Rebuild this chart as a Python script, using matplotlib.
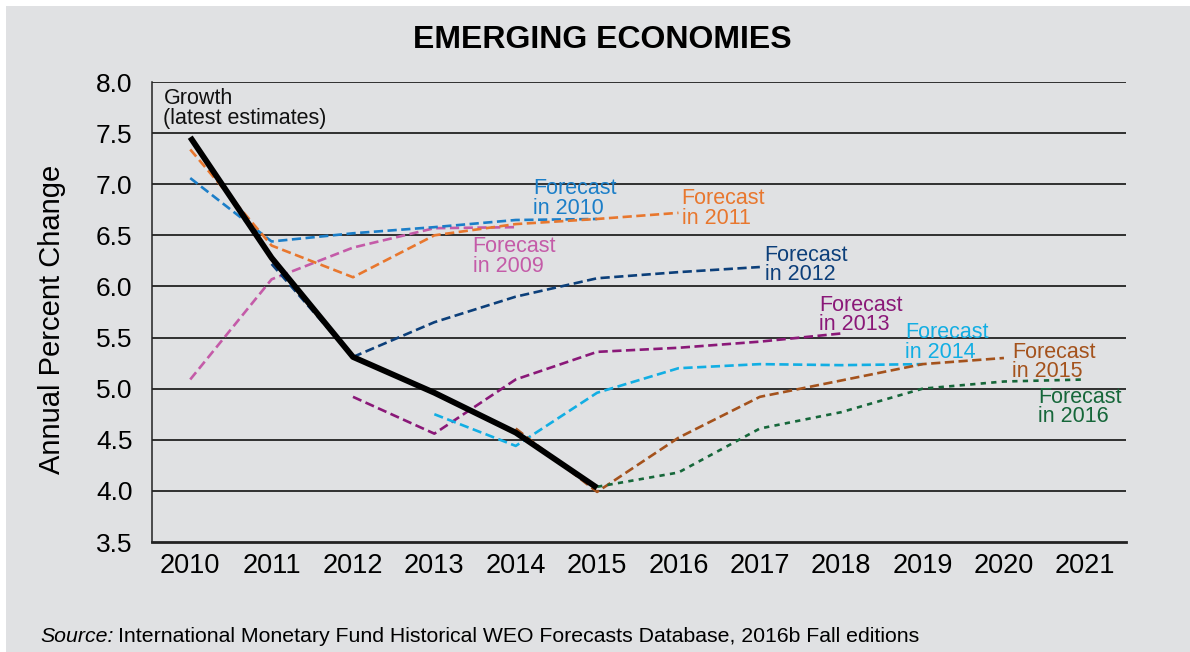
import matplotlib.pyplot as plt
from matplotlib.patches import Rectangle
import numpy as np

plt.rcParams['font.family'] = ['Liberation Sans', 'DejaVu Sans']

years = list(range(2010, 2022))

# growth, latest estimates
growth_x = [2010, 2011, 2012, 2013, 2014, 2015]
growth_y = [7.46, 6.28, 5.31, 4.96, 4.57, 4.03]

# forecasts by vintage: (years, values)
f2009_x = [2010, 2011, 2012, 2013, 2014]
f2009_y = [5.09, 6.07, 6.38, 6.57, 6.58]
f2010_x = [2010, 2011, 2012, 2013, 2014, 2015]
f2010_y = [7.06, 6.44, 6.52, 6.58, 6.65, 6.66]
f2011_x = [2010, 2011, 2012, 2013, 2014, 2015, 2016]
f2011_y = [7.34, 6.40, 6.09, 6.50, 6.61, 6.66, 6.72]
f2012_x = [2011, 2012, 2013, 2014, 2015, 2016, 2017]
f2012_y = [6.22, 5.31, 5.65, 5.90, 6.08, 6.14, 6.19]
f2013_x = [2012, 2013, 2014, 2015, 2016, 2017, 2018]
f2013_y = [4.92, 4.56, 5.09, 5.36, 5.40, 5.46, 5.54]
f2014_x = [2013, 2014, 2015, 2016, 2017, 2018, 2019]
f2014_y = [4.75, 4.44, 4.96, 5.20, 5.24, 5.23, 5.24]
f2015_x = [2014, 2015, 2016, 2017, 2018, 2019, 2020]
f2015_y = [4.61, 3.99, 4.52, 4.92, 5.08, 5.24, 5.30]
f2016_x = [2015, 2016, 2017, 2018, 2019, 2020, 2021]
f2016_y = [4.04, 4.18, 4.61, 4.77, 5.00, 5.07, 5.09]

bg = '#e0e1e3'
fig = plt.figure(figsize=(11.9, 6.52), dpi=100)
fig.patch.set_facecolor('white')
fig.patches.append(Rectangle((6/1190, 0), 1, 1 - 6/652, transform=fig.transFigure,
                             facecolor=bg, edgecolor='none', zorder=-10))

ax = fig.add_axes([152/1190, 1 - 542/652, (1126 - 152)/1190, (542 - 82)/652])
ax.set_facecolor(bg)
ax.set_xlim(2009.53, 2021.5)
ax.set_ylim(3.5, 8.0)
ax.set_yticks(np.arange(3.5, 8.01, 0.5))
ax.set_yticklabels([f'{v:.1f}' for v in np.arange(3.5, 8.01, 0.5)], fontsize=19)
ax.set_xticks(years)
ax.set_xticklabels([str(y) for y in years], fontsize=19.5)
ax.tick_params(length=0, pad=8)
ax.tick_params(axis='y', pad=14)
for v in np.arange(4.0, 8.01, 0.5):
    ax.axhline(v, color='#222222', lw=1.3, zorder=1)
ax.spines['top'].set_visible(False)
ax.spines['right'].set_visible(False)
ax.spines['left'].set_color('#222222')
ax.spines['left'].set_linewidth(1.1)
ax.spines['bottom'].set_color('#222222')
ax.spines['bottom'].set_linewidth(2)

dash = (0, (3.5, 1.7))
series = [
    (f2009_x, f2009_y, '#c45ba8', dash),
    (f2010_x, f2010_y, '#1b7ec8', dash),
    (f2011_x, f2011_y, '#e8772e', dash),
    (f2012_x, f2012_y, '#0c3f7a', dash),
    (f2013_x, f2013_y, '#8a1878', dash),
    (f2014_x, f2014_y, '#12aee3', dash),
    (f2015_x, f2015_y, '#a4521c', dash),
    (f2016_x, f2016_y, '#16673a', (0, (2, 2))),
]
for x, y, c, ls in series:
    ax.plot(x, y, color=c, lw=1.9, linestyle=ls, zorder=3)
ax.plot(growth_x, growth_y, color='black', lw=4.2, zorder=4, solid_capstyle='butt')

ax.set_ylabel('Annual Percent Change', fontsize=21)
ax.yaxis.set_label_coords(-0.088, 0.483)

lab = dict(fontsize=15.5, linespacing=0.92, va='top', ha='left')
ax.text(2009.67, 7.94, 'Growth\n(latest estimates)', color='#111111', **lab)
ax.text(2014.21, 7.06, 'Forecast\nin 2010', color='#1b7ec8', **lab)
ax.text(2016.04, 6.96, 'Forecast\nin 2011', color='#e8772e', **lab)
ax.text(2013.47, 6.49, 'Forecast\nin 2009', color='#c45ba8', **lab)
ax.text(2017.06, 6.41, 'Forecast\nin 2012', color='#0c3f7a', **lab)
ax.text(2017.73, 5.92, 'Forecast\nin 2013', color='#8a1878', **lab)
ax.text(2018.79, 5.65, 'Forecast\nin 2014', color='#12aee3', **lab)
ax.text(2020.10, 5.46, 'Forecast\nin 2015', color='#a4521c', **lab)
ax.text(2020.42, 5.02, 'Forecast\nin 2016', color='#16673a', **lab)

fig.text(602/1190, 1 - 40/652, 'EMERGING ECONOMIES', fontsize=23, fontweight='bold',
         ha='center', va='center')
src = fig.text(40/1190, 1 - 636/652, 'Source:', fontsize=15.3, style='italic', ha='left', va='center')
fig.canvas.draw()
bb = src.get_window_extent()
fig.text((bb.x1 + 5) / 1190, 1 - 636/652,
         'International Monetary Fund Historical WEO Forecasts Database, 2016b Fall editions',
         fontsize=15.3, ha='left', va='center')

fig.savefig('out.png', dpi=100, facecolor=fig.get_facecolor())
